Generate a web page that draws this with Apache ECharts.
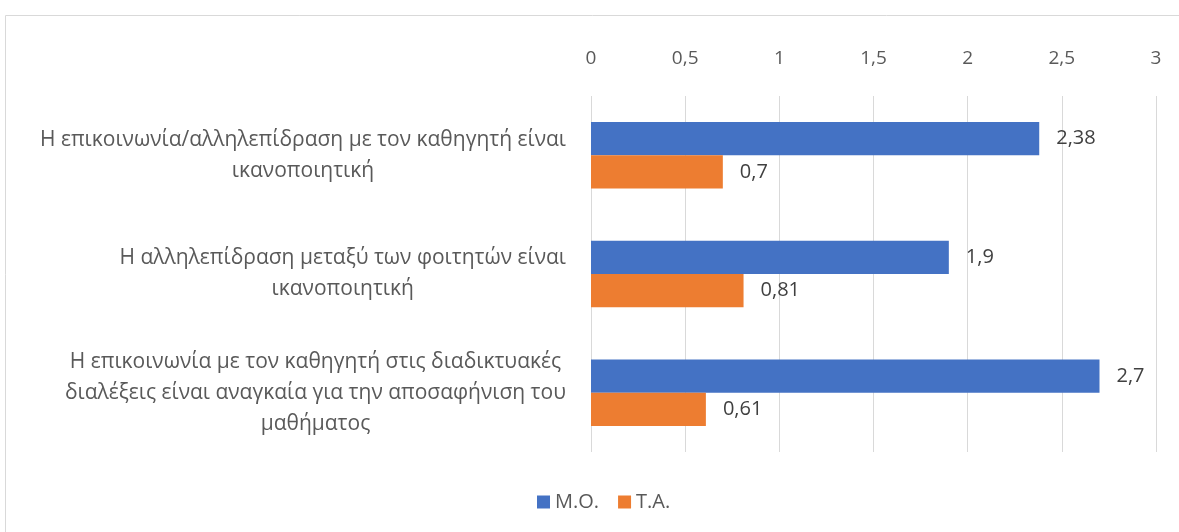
<!DOCTYPE html>
<html><head><meta charset="utf-8">
<script src="https://cdn.jsdelivr.net/npm/echarts@6/dist/echarts.min.js"></script>
<style>html,body{margin:0;padding:0;background:#fff}#c{width:1179px;height:532px}</style>
</head><body><div id="c"></div>
<script>
const categories = [
  "Η επικοινωνία/αλληλεπίδραση με τον καθηγητή είναι\nικανοποιητική",
  "Η αλληλεπίδραση μεταξύ των φοιτητών είναι\nικανοποιητική",
  "Η επικοινωνία με τον καθηγητή στις διαδικτυακές\nδιαλέξεις είναι αναγκαία για την αποσαφήνιση του\nμαθήματος"
];
const seriesNames = ["Μ.Ο.", "Τ.Α."];
const meanValues = [2.38, 1.9, 2.7];
const sdValues = [0.7, 0.81, 0.61];
const axisMin = 0, axisMax = 3, axisInterval = 0.5;

const FONT = 'Open Sans';
const fmt = v => String(v).replace('.', ',');
const chart = echarts.init(document.getElementById('c'));
chart.setOption({
  animation: false,
  textStyle: { fontFamily: FONT },
  graphic: [{ type: 'rect', shape: { x: 5.5, y: 15.5, width: 1300, height: 700 }, style: { fill: 'none', stroke: '#d9d9d9', lineWidth: 1 }, silent: true }],
  grid: { left: 591, right: 23, top: 96, bottom: 80 },
  legend: {
    bottom: 15, left: 532, icon: 'rect', itemWidth: 13, itemHeight: 13, itemGap: 19,
    textStyle: { fontFamily: FONT, fontSize: 20, color: '#595959', padding: [0, 0, 0, 0] },
    data: seriesNames
  },
  xAxis: {
    type: 'value', position: 'top', min: axisMin, max: axisMax, interval: axisInterval,
    axisLine: { show: false }, axisTick: { show: false },
    splitLine: { show: true, lineStyle: { color: '#d9d9d9', width: 1 } },
    axisLabel: { margin: 28, fontSize: 19, color: '#595959', fontFamily: FONT, formatter: fmt }
  },
  yAxis: {
    type: 'category', inverse: true, data: categories,
    axisLine: { show: false }, axisTick: { show: false },
    axisLabel: {
      margin: 25, color: '#595959', fontSize: 21, fontFamily: FONT, lineHeight: 31,
      formatter: v => v.split('\n').map(l => '{c|' + l + '}').join('\n'),
      rich: { c: { align: 'center', fontSize: 21, fontFamily: FONT, color: '#595959', lineHeight: 31 } }
    }
  },
  series: [
    { name: seriesNames[0], type: 'bar', data: meanValues, barGap: '0%', barCategoryGap: '44%',
      itemStyle: { color: '#4472C4' },
      label: { show: true, position: 'right', distance: 17, fontSize: 20, color: '#404040', fontFamily: FONT, formatter: p => fmt(p.value) } },
    { name: seriesNames[1], type: 'bar', data: sdValues, barGap: '0%', barCategoryGap: '44%',
      itemStyle: { color: '#ED7D31' },
      label: { show: true, position: 'right', distance: 17, fontSize: 20, color: '#404040', fontFamily: FONT, formatter: p => fmt(p.value) } }
  ]
});
</script></body></html>
